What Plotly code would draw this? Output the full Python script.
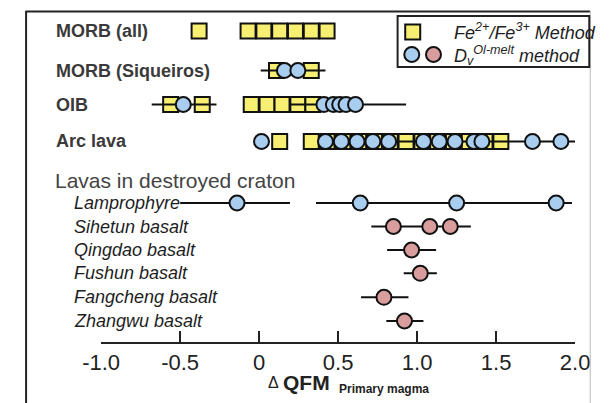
import plotly.graph_objects as go

# ---------------- data (ΔQFM values) ----------------
morb_all_fe = [-0.38, -0.07, 0.03, 0.13, 0.23, 0.33, 0.43]
morb_siq_fe = [0.11, 0.33]
morb_siq_dv = [0.16, 0.245]
morb_siq_rng = [[0.01, 0.42]]
oib_fe = [-0.56, -0.36, -0.05, 0.05, 0.145, 0.245, 0.34]
oib_dv = [-0.48, 0.41, 0.47, 0.51, 0.55, 0.61]
oib_rng = [[-0.68, -0.27], [0.2, 0.93]]
arc_fe = [0.13, 0.33, 0.43, 0.53, 0.63, 0.73, 0.83, 0.93, 1.03, 1.13, 1.23, 1.33, 1.43, 1.53]
arc_dv = [0.015, 0.42, 0.52, 0.62, 0.72, 0.82, 1.04, 1.14, 1.24, 1.36, 1.41, 1.73, 1.91]
arc_rng = [[0.5, 2.0]]
lamp_dv = [-0.14, 0.64, 1.25, 1.88]
lamp_rng = [[-0.5, 0.195], [0.36, 1.98]]
sihetun_dv = [0.85, 1.08, 1.21]
sihetun_rng = [[0.71, 1.34]]
qingdao_dv = [0.965]
qingdao_rng = [[0.81, 1.12]]
fushun_dv = [1.02]
fushun_rng = [[0.915, 1.125]]
fangcheng_dv = [0.79]
fangcheng_rng = [[0.645, 0.945]]
zhangwu_dv = [0.92]
zhangwu_rng = [[0.805, 1.04]]

tick_vals = [-1.0, -0.5, 0, 0.5, 1.0, 1.5, 2.0]
tick_text = ["-1.0", "-0.5", "0", "0.5", "1.0", "1.5", "2.0"]

bold_rows = ["MORB (all)", "MORB (Siqueiros)", "OIB", "Arc lava"]
group_title = "Lavas in destroyed craton"
italic_rows = ["Lamprophyre", "Sihetun basalt", "Qingdao basalt", "Fushun basalt",
               "Fangcheng basalt", "Zhangwu basalt"]

# ---------------- layout (row positions, pixel-like vertical scale) ----------------
W, H = 609, 403
AX_Y = 341.7
row_y = {"MORB (all)": 31, "MORB (Siqueiros)": 70.5, "OIB": 104.5, "Arc lava": 141.5,
         "Lamprophyre": 203, "Sihetun basalt": 226.5, "Qingdao basalt": 250,
         "Fushun basalt": 273.3, "Fangcheng basalt": 297.3, "Zhangwu basalt": 321}

YELLOW = "#f6ef72"
BLUE = "#a8cdef"
PINK = "#d99d9e"
EDGE = "#111111"


def px(x):
    return x / W


def py(y):
    return 1 - y / H


fe_sets = [("MORB (all)", morb_all_fe), ("MORB (Siqueiros)", morb_siq_fe),
           ("OIB", oib_fe), ("Arc lava", arc_fe)]
blue_sets = [("MORB (Siqueiros)", morb_siq_dv), ("OIB", oib_dv), ("Arc lava", arc_dv),
             ("Lamprophyre", lamp_dv)]
pink_sets = [("Sihetun basalt", sihetun_dv), ("Qingdao basalt", qingdao_dv),
             ("Fushun basalt", fushun_dv), ("Fangcheng basalt", fangcheng_dv),
             ("Zhangwu basalt", zhangwu_dv)]
rng_sets = [("MORB (Siqueiros)", morb_siq_rng), ("OIB", oib_rng), ("Arc lava", arc_rng),
            ("Lamprophyre", lamp_rng), ("Sihetun basalt", sihetun_rng),
            ("Qingdao basalt", qingdao_rng), ("Fushun basalt", fushun_rng),
            ("Fangcheng basalt", fangcheng_rng), ("Zhangwu basalt", zhangwu_rng)]

fig = go.Figure()

# squares (Fe2+/Fe3+ method)
sx, sy = [], []
for name, vals in fe_sets:
    for v in vals:
        sx.append(v)
        sy.append(row_y[name])
fig.add_trace(go.Scatter(x=sx, y=sy, mode="markers", cliponaxis=False, showlegend=False,
                         marker=dict(symbol="square", size=15, color=YELLOW,
                                     line=dict(color=EDGE, width=2))))

# range lines
lx, ly = [], []
for name, segs in rng_sets:
    for lo, hi in segs:
        lx += [lo, hi, None]
        ly += [row_y[name], row_y[name], None]
fig.add_trace(go.Scatter(x=lx, y=ly, mode="lines", cliponaxis=False, showlegend=False,
                         line=dict(color=EDGE, width=2)))

# circles (Dv Ol-melt method)
for sets, col in [(blue_sets, BLUE), (pink_sets, PINK)]:
    cx, cy = [], []
    for name, vals in sets:
        for v in vals:
            cx.append(v)
            cy.append(row_y[name])
    fig.add_trace(go.Scatter(x=cx, y=cy, mode="markers", cliponaxis=False, showlegend=False,
                             marker=dict(symbol="circle", size=15, color=col,
                                         line=dict(color=EDGE, width=2))))

# legend symbols (page-pixel overlay axes)
fig.add_trace(go.Scatter(x=[417], y=[32], xaxis="x2", yaxis="y2", mode="markers",
                         showlegend=False, cliponaxis=False,
                         marker=dict(symbol="square", size=15, color=YELLOW,
                                     line=dict(color=EDGE, width=2))))
fig.add_trace(go.Scatter(x=[416, 439], y=[54.5, 54.5], xaxis="x2", yaxis="y2", mode="markers",
                         showlegend=False, cliponaxis=False,
                         marker=dict(symbol="circle", size=15, color=[BLUE, PINK],
                                     line=dict(color=EDGE, width=2))))

ann = []
FONT = "Liberation Sans, Arial, sans-serif"
for name in bold_rows:
    ann.append(dict(x=px(37), y=py(row_y[name]), xref="paper", yref="paper", xanchor="left",
                    yanchor="middle", showarrow=False, text="<b>%s</b>" % name,
                    font=dict(family=FONT, size=18, color="#3a3a3a")))
ann.append(dict(x=px(36), y=py(180), xref="paper", yref="paper", xanchor="left",
                yanchor="middle", showarrow=False, text=group_title,
                font=dict(family=FONT, size=21, color="#444444")))
for name in italic_rows:
    ann.append(dict(x=px(56), y=py(row_y[name]), xref="paper", yref="paper", xanchor="left",
                    yanchor="middle", showarrow=False, text="<i>%s</i>" % name,
                    font=dict(family=FONT, size=18, color="#1e1e1e")))
ann.append(dict(x=px(459), y=py(32), xref="paper", yref="paper", xanchor="left",
                yanchor="middle", showarrow=False,
                text="<i>Fe<sup>2+</sup>/Fe<sup>3+</sup> Method</i>",
                font=dict(family=FONT, size=18, color="#1e1e1e")))
ann.append(dict(x=px(459), y=py(55), xref="paper", yref="paper", xanchor="left",
                yanchor="middle", showarrow=False,
                text="<i>D<sub>v</sub><sup>Ol-melt</sup> method</i>",
                font=dict(family=FONT, size=18, color="#1e1e1e")))
ann.append(dict(x=px(269.5), y=py(382), xref="paper", yref="paper", xanchor="center",
                yanchor="middle", showarrow=False, text="Δ",
                font=dict(family=FONT, size=16, color="#222222")))
ann.append(dict(x=px(278), y=py(382), xref="paper", yref="paper", xanchor="left",
                yanchor="middle", showarrow=False, text="<b>QFM</b>",
                font=dict(family=FONT, size=21, color="#222222")))
ann.append(dict(x=px(337), y=py(389), xref="paper", yref="paper", xanchor="left",
                yanchor="middle", showarrow=False, text="<b>Primary magma</b>",
                font=dict(family=FONT, size=12, color="#222222")))

shapes = [
    dict(type="line", xref="paper", yref="paper", x0=px(7), x1=px(605), y0=py(11.5), y1=py(11.5),
         line=dict(color="#222222", width=2)),
    dict(type="line", xref="paper", yref="paper", x0=px(7.5), x1=px(7.5), y0=py(11), y1=py(403),
         line=dict(color="#222222", width=2)),
    dict(type="line", xref="paper", yref="paper", x0=px(605), x1=px(605), y0=py(11), y1=py(403),
         line=dict(color="#bbbbbb", width=1)),
    dict(type="rect", xref="paper", yref="paper", x0=px(401), x1=px(604), y0=py(16), y1=py(67),
         line=dict(color="#222222", width=2), fillcolor="rgba(0,0,0,0)"),
]

fig.update_layout(
    width=W, height=H, margin=dict(l=0, r=0, t=0, b=0),
    paper_bgcolor="white", plot_bgcolor="rgba(0,0,0,0)",
    xaxis=dict(domain=[px(87), px(589)], range=[-1.0, 2.0], tickvals=tick_vals,
               ticktext=tick_text, ticks="inside", ticklen=11, tickwidth=2,
               tickcolor="#222222", showline=True, linewidth=2, linecolor="#222222",
               showgrid=False, zeroline=False, anchor="y",
               tickfont=dict(family=FONT, size=22, color="#222222")),
    yaxis=dict(domain=[py(AX_Y), 1], range=[AX_Y, 0], visible=False, showgrid=False,
               zeroline=False),
    xaxis2=dict(domain=[0, 1], range=[0, W], visible=False, anchor="y2"),
    yaxis2=dict(domain=[0, 1], range=[H, 0], visible=False, anchor="x2"),
    annotations=ann, shapes=shapes, showlegend=False,
)

fig.write_html("out.html")
